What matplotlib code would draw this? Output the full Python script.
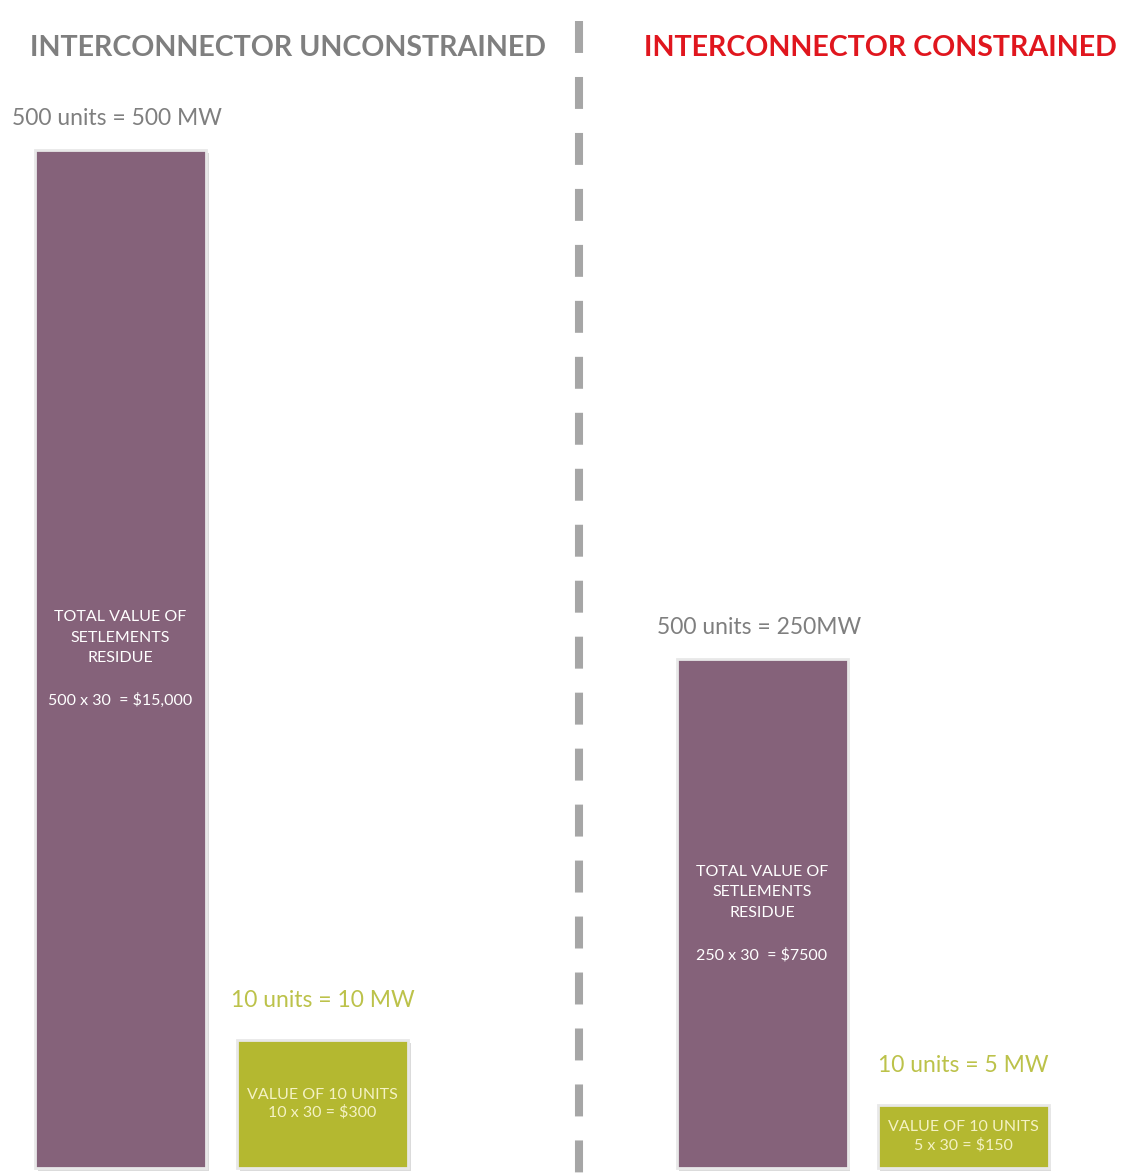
import matplotlib
matplotlib.use("Agg")
import matplotlib.pyplot as plt
from matplotlib.lines import Line2D
import matplotlib.patheffects as pe

# ── Data ──────────────────────────────────────────────────────────────────────
PANEL_TITLES  = ["INTERCONNECTOR UNCONSTRAINED", "INTERCONNECTOR CONSTRAINED"]
# bar heights (drawing scale, MW for the big bars)
TOTAL_HEIGHT  = [500, 250]
UNIT_HEIGHT   = [63, 31]
TOTAL_LABELS  = ["500 units = 500 MW", "500 units = 250MW"]
UNIT_LABELS   = ["10 units = 10 MW", "10 units = 5 MW"]
TOTAL_INNER   = ["TOTAL VALUE OF\nSETLEMENTS\nRESIDUE\n\n500 x 30  = $15,000",
                 "TOTAL VALUE OF\nSETLEMENTS\nRESIDUE\n\n250 x 30  = $7500"]
UNIT_INNER    = ["VALUE OF 10 UNITS\n10 x 30 = $300",
                 "VALUE OF 10 UNITS\n5 x 30 = $150"]

PURPLE      = "#85627a"
OLIVE       = "#b4b830"
OLIVE_TXT   = "#bcc24a"
GREY_TXT    = "#7f7f7f"
RED_TXT     = "#e0161e"
TITLE_COLS  = [GREY_TXT, RED_TXT]

W, H = 1123, 1173
plt.rcParams["font.family"] = ["Lato", "DejaVu Sans"]
plt.rcParams["lines.scale_dashes"] = False

fig = plt.figure(figsize=(W / 100, H / 100), dpi=100)
fig.patch.set_facecolor("white")

# panel geometry in pixels: (left, width), bar centres relative to panel
panels = [(0, 577, [120.5, 322.5]), (577, 546, [185, 386])]
bar_w = 171
bottom_px = 5
ymax = 500 * (H - bottom_px) / 1018

shadow = [pe.SimplePatchShadow(offset=(2, -2), shadow_rgbFace="#999999", alpha=0.35),
          pe.Normal()]

for i, (left, width, xs) in enumerate(panels):
    ax = fig.add_axes([left / W, bottom_px / H, width / W, (H - bottom_px) / H])
    ax.set_xlim(0, width)
    ax.set_ylim(0, ymax)
    ax.axis("off")

    heights = [TOTAL_HEIGHT[i], UNIT_HEIGHT[i]]
    bars = ax.bar(xs, heights, width=bar_w, color=[PURPLE, OLIVE],
                  edgecolor="#e8e8e8", linewidth=2, clip_on=False)
    for b in bars:
        b.set_path_effects(shadow)

    # labels above the bars
    ax.annotate(TOTAL_LABELS[i], (xs[0], TOTAL_HEIGHT[i]), xytext=(-3, 32),
                textcoords="offset pixels", ha="center", va="center",
                fontsize=16.5, color=GREY_TXT)
    ax.annotate(UNIT_LABELS[i], (xs[1], UNIT_HEIGHT[i]), xytext=(0, 39),
                textcoords="offset pixels", ha="center", va="center",
                fontsize=16.5, color=OLIVE_TXT)

    # text inside bars
    ax.text(xs[0], TOTAL_HEIGHT[i] / 2, TOTAL_INNER[i], ha="center", va="center",
            fontsize=11.5, color="white", linespacing=1.6)
    ax.text(xs[1], UNIT_HEIGHT[i] / 2, UNIT_INNER[i], ha="center", va="center",
            fontsize=11.5, color="#f4f2c4", linespacing=1.3)

# panel titles
fig.text(288 / W, 1 - 48 / H, PANEL_TITLES[0], ha="center", va="center",
         fontsize=20.6, fontweight="bold", color=TITLE_COLS[0])
fig.text(880 / W, 1 - 48 / H, PANEL_TITLES[1], ha="center", va="center",
         fontsize=20.6, fontweight="bold", color=TITLE_COLS[1])

# dashed divider
div = Line2D([579 / W, 579 / W], [1 - 21 / H, 0], transform=fig.transFigure,
             color="#a6a6a6", linewidth=5.8, solid_capstyle="butt",
             dash_capstyle="butt", linestyle=(0, (23, 17.3)))
fig.add_artist(div)

fig.savefig("out.png", dpi=100)
